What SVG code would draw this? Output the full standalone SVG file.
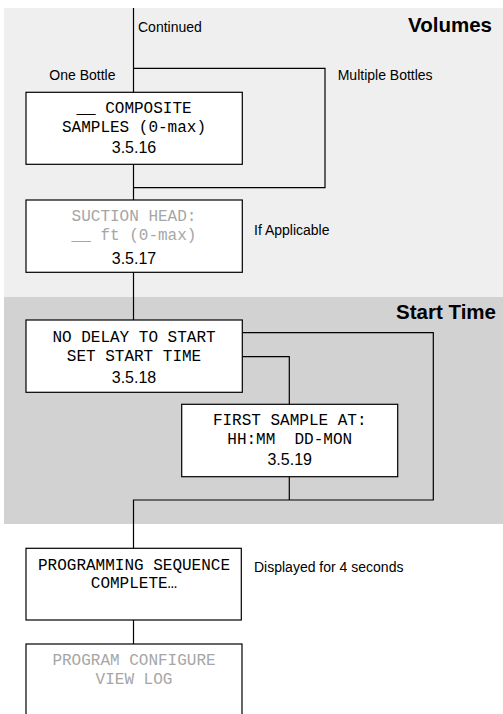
<svg xmlns="http://www.w3.org/2000/svg" width="503" height="714" viewBox="0 0 503 714">
<style>
.box{fill:#fff;stroke:#000;stroke-width:1.2}
.lcd{font-family:"Liberation Mono","DejaVu Sans Mono",monospace;font-size:16px;text-anchor:middle;fill:#000;white-space:pre}
.dim{fill:#a6a6a6}
.num{font-family:"Liberation Sans",Arial,sans-serif;font-size:16px;text-anchor:middle;fill:#000}
.lbl{font-family:"Liberation Sans",Arial,sans-serif;font-size:14px;fill:#000}
.hdr{font-family:"Liberation Sans",Arial,sans-serif;font-size:20.5px;font-weight:bold;text-anchor:end;fill:#000}
.wire{fill:none;stroke:#000;stroke-width:1.2}
</style>
<rect x="0" y="0" width="503" height="714" fill="#fff"/>
<rect x="4" y="8" width="499" height="289" fill="#efefef"/>
<rect x="4" y="297" width="499" height="227" fill="#d2d2d2"/>
<text class="hdr" x="492" y="31.5">Volumes</text>
<text class="hdr" x="496" y="318.5">Start Time</text>
<g id="connectors">
<path class="wire" d="M133.5 8 V92"/>
<path class="wire" d="M133.5 68.3 H325 V187.7 H133.5"/>
<path class="wire" d="M133.5 164.3 V200"/>
<path class="wire" d="M133.5 272.3 V320"/>
<path class="wire" d="M242.3 332.7 H433.3 V500 H133.5 V548.3"/>
<path class="wire" d="M242.3 356.7 H289.3 V404.3"/>
<path class="wire" d="M289.3 476.7 V500"/>
<path class="wire" d="M133.5 620 V644"/>
</g>
<text class="lbl" x="138" y="31.5">Continued</text>
<text class="lbl" x="49.3" y="80">One Bottle</text>
<text class="lbl" x="337.7" y="80">Multiple Bottles</text>
<text class="lbl" x="254" y="235">If Applicable</text>
<text class="lbl" x="254" y="571.7">Displayed for 4 seconds</text>
<g id="n3516">
<rect class="box" x="26" y="92.3" width="216.3" height="72"/>
<text class="lcd" x="134" y="112.7">__ COMPOSITE</text>
<text class="lcd" x="134" y="132.3">SAMPLES (0-max)</text>
<text class="num" x="134" y="152.7">3.5.16</text>
</g>
<g id="n3517">
<rect class="box" x="26" y="200" width="216.3" height="72.3"/>
<text class="lcd dim" x="134" y="220.7">SUCTION HEAD:</text>
<text class="lcd dim" x="134" y="240">__ ft (0-max)</text>
<text class="num" x="134" y="263.5">3.5.17</text>
</g>
<g id="n3518">
<rect class="box" x="26" y="320" width="216.3" height="72.3"/>
<text class="lcd" x="134" y="341.7">NO DELAY TO START</text>
<text class="lcd" x="134" y="361">SET START TIME</text>
<text class="num" x="134" y="383.3">3.5.18</text>
</g>
<g id="n3519">
<rect class="box" x="181.7" y="404.3" width="216" height="72.4"/>
<text class="lcd" x="289.7" y="425">FIRST SAMPLE AT:</text>
<text class="lcd" x="289.7" y="444">HH:MM  DD-MON</text>
<text class="num" x="289.7" y="465">3.5.19</text>
</g>
<g id="complete">
<rect class="box" x="26" y="548.3" width="215.3" height="71.7"/>
<text class="lcd" x="134" y="570">PROGRAMMING SEQUENCE</text>
<text class="lcd" x="134" y="588.3">COMPLETE…</text>
</g>
<g id="mainmenu">
<rect class="box" x="26" y="644" width="216" height="90"/>
<text class="lcd dim" x="134" y="665">PROGRAM CONFIGURE</text>
<text class="lcd dim" x="134" y="684">VIEW LOG</text>
</g>
</svg>
